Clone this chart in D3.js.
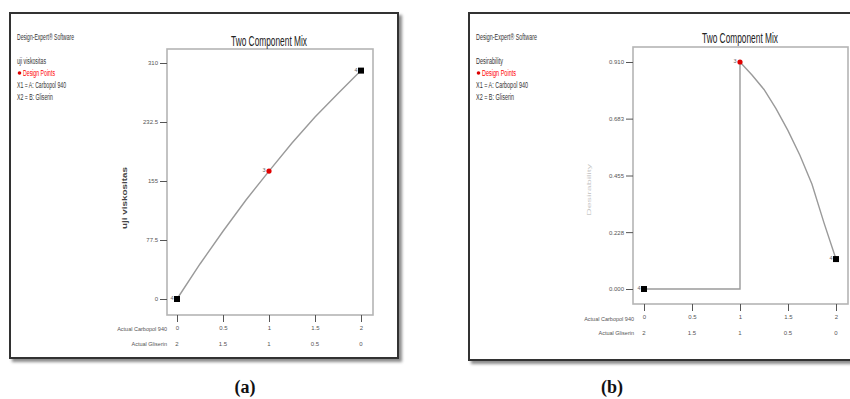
<!DOCTYPE html>
<html>
<head>
<meta charset="utf-8">
<script src="https://cdn.jsdelivr.net/npm/d3@7"></script>
<style>
  body { margin: 0; background: #fff; }
  svg { display: block; }
  text { font-family: "Liberation Sans Narrow", "Liberation Sans", Arial, sans-serif; }
</style>
</head>
<body>
<script>
// shared x axis (mixture components)
var xTicks = [0, 0.5, 1, 1.5, 2];
var carbopolLabels = ["0", "0.5", "1", "1.5", "2"];
var gliserinLabels = ["2", "1.5", "1", "0.5", "0"];

// panel (a) viscosity
var viscTicks = [0, 77.5, 155, 232.5, 310];
var viscTickLabels = ["0", "77.5", "155", "232.5", "310"];
var viscCurveX = [0, 0.25, 0.5, 0.75, 1, 1.25, 1.5, 1.75, 2];
var viscCurveY = [0, 46, 89, 130, 168, 205, 239, 270, 300];
var viscPointX = [0, 1, 2];
var viscPointY = [0, 168, 300];

// panel (b) desirability
var desTicks = [0, 0.228, 0.455, 0.683, 0.910];
var desTickLabels = ["0.000", "0.228", "0.455", "0.683", "0.910"];
var desCurveX = [0, 1, 1, 1.125, 1.25, 1.375, 1.5, 1.625, 1.75, 1.875, 2];
var desCurveY = [0, 0, 0.91, 0.858, 0.80, 0.723, 0.635, 0.535, 0.42, 0.265, 0.12];
var desPointX = [0, 1, 2];
var desPointY = [0, 0.91, 0.12];

var pointLabels = ["4", "3", "4"];
var pointRed = [false, true, false];

var svg = d3.select("body").append("svg")
    .attr("width", 850)
    .attr("height", 399);

var defs = svg.append("defs");
var f = defs.append("filter").attr("id", "shadow")
    .attr("x", "-5%").attr("y", "-5%").attr("width", "115%").attr("height", "115%");
f.append("feDropShadow").attr("dx", 3).attr("dy", 3).attr("stdDeviation", 1.8)
    .attr("flood-color", "#000").attr("flood-opacity", 0.45);

function draw_panel(p) {
    var g = svg.append("g");

    // outer frame
    g.append("rect")
        .attr("x", p.frame[0]).attr("y", p.frame[1])
        .attr("width", p.frame[2]).attr("height", p.frame[3])
        .attr("fill", "#fff").attr("stroke", "#333").attr("stroke-width", 2)
        .attr("filter", "url(#shadow)");

    // legend block
    var lx = p.frame[0] + 7;
    g.append("text").text("Design-Expert\u00ae Software")
        .attr("x", lx).attr("y", 40).attr("font-size", 8.5)
        .attr("textLength", p.legendW[0]).attr("lengthAdjust", "spacingAndGlyphs").attr("fill", "#333");
    g.append("text").text(p.response)
        .attr("x", lx).attr("y", 64).attr("font-size", 8.5)
        .attr("textLength", p.legendW[1]).attr("lengthAdjust", "spacingAndGlyphs").attr("fill", "#333");
    g.append("circle").attr("cx", lx + 2.5).attr("cy", 73).attr("r", 1.8).attr("fill", "#d00");
    g.append("text").text("Design Points")
        .attr("x", lx + 6).attr("y", 76).attr("font-size", 8.5)
        .attr("textLength", p.legendW[2]).attr("lengthAdjust", "spacingAndGlyphs").attr("fill", "#f00");
    g.append("text").text("X1 = A: Carbopol 940")
        .attr("x", lx).attr("y", 88).attr("font-size", 8.5)
        .attr("textLength", p.legendW[3]).attr("lengthAdjust", "spacingAndGlyphs").attr("fill", "#333");
    g.append("text").text("X2 = B: Gliserin")
        .attr("x", lx).attr("y", 100).attr("font-size", 8.5)
        .attr("textLength", p.legendW[4]).attr("lengthAdjust", "spacingAndGlyphs").attr("fill", "#333");

    // plot box
    var box = p.box;
    g.append("rect")
        .attr("x", box[0]).attr("y", box[1])
        .attr("width", box[2] - box[0]).attr("height", box[3] - box[1])
        .attr("fill", "#fff").attr("stroke", "#b5b5b5").attr("stroke-width", 1.6);

    // title
    g.append("text").text("Two Component Mix")
        .attr("x", p.titleX).attr("y", p.titleY).attr("font-size", 14)
        .attr("text-anchor", "middle")
        .attr("textLength", 76).attr("lengthAdjust", "spacingAndGlyphs").attr("fill", "#222");

    var xScale = d3.scaleLinear().domain([0, 2]).range(p.xRange);
    var yScale = d3.scaleLinear().domain(p.yDomain).range(p.yRange);

    // y axis
    var yAxis = d3.axisLeft(yScale)
        .tickValues(p.yTicks)
        .tickFormat(function(d, i) { return p.yTickLabels[i]; })
        .tickSize(7).tickPadding(2);
    var yg = g.append("g").attr("transform", "translate(" + box[0] + ",0)").call(yAxis);
    yg.select(".domain").remove();
    yg.selectAll("line").attr("stroke", "#555");
    yg.selectAll("text").attr("font-size", 6).attr("fill", "#555");

    // y title
    g.append("text").text(p.yTitle)
        .attr("transform", "translate(" + p.yTitlePos[0] + "," + p.yTitlePos[1] + ") rotate(-90)")
        .attr("text-anchor", "middle").attr("font-size", p.yTitleSize).attr("font-weight", p.yTitleBold ? "bold" : "normal")
        .attr("textLength", p.yTitleW).attr("lengthAdjust", "spacingAndGlyphs")
        .attr("fill", p.yTitleColor);

    // x axis: tick marks with carbopol values
    var xAxis = d3.axisBottom(xScale)
        .tickValues(xTicks)
        .tickFormat(function(d, i) { return carbopolLabels[i]; })
        .tickSize(p.xTickLen).tickPadding(4);
    var xg = g.append("g").attr("transform", "translate(0," + box[3] + ")").call(xAxis);
    xg.select(".domain").remove();
    xg.selectAll("line").attr("stroke", "#555");
    xg.selectAll("text").attr("font-size", 6).attr("fill", "#555");

    // second row: gliserin values
    g.selectAll(".glis").data(xTicks).enter().append("text")
        .attr("class", "glis")
        .attr("x", function(d) { return xScale(d); })
        .attr("y", p.row2Y)
        .attr("text-anchor", "middle").attr("font-size", 6).attr("fill", "#555")
        .text(function(d, i) { return gliserinLabels[i]; });

    g.append("text").text("Actual Carbopol 940")
        .attr("x", xScale(0) - 10).attr("y", p.row1Y).attr("text-anchor", "end")
        .attr("font-size", 5.5).attr("fill", "#555");
    g.append("text").text("Actual Gliserin")
        .attr("x", xScale(0) - 10).attr("y", p.row2Y).attr("text-anchor", "end")
        .attr("font-size", 5.5).attr("fill", "#555");

    // response curve
    var line = d3.line()
        .x(function(d, i) { return xScale(p.curveX[i]); })
        .y(function(d) { return yScale(d); });
    g.append("path").datum(p.curveY)
        .attr("fill", "none").attr("stroke", "#9a9a9a").attr("stroke-width", 1.4)
        .attr("d", line);

    // design points
    p.pointX.forEach(function(px, i) {
        var cx = xScale(px), cy = yScale(p.pointY[i]);
        if (pointRed[i]) {
            g.append("circle").attr("cx", cx).attr("cy", cy).attr("r", 2.6).attr("fill", "#e00000");
        } else {
            g.append("rect").attr("x", cx - 3).attr("y", cy - 3)
                .attr("width", 6).attr("height", 6).attr("fill", "#000");
        }
        g.append("text").text(pointLabels[i])
            .attr("x", cx - 3.5).attr("y", cy + 1)
            .attr("text-anchor", "end").attr("font-size", 5.5).attr("fill", "#666");
    });

    // caption
    svg.append("text").text(p.caption)
        .attr("x", p.captionX).attr("y", 393)
        .attr("text-anchor", "middle")
        .style("font-family", "'Liberation Serif', 'Times New Roman', serif")
        .attr("font-size", 18).attr("font-weight", "bold").attr("fill", "#111");
}

draw_panel({
    frame: [10, 13, 388, 345],
    box: [167, 49, 373, 315],
    legendW: [57, 29, 32, 49, 36],
    response: "uji viskositas",
    titleX: 269, titleY: 46,
    xRange: [177, 361],
    yDomain: [0, 310], yRange: [299, 63],
    yTicks: viscTicks, yTickLabels: viscTickLabels,
    yTitle: "uji viskositas", yTitlePos: [127, 198], yTitleW: 62, yTitleSize: 6.5, yTitleBold: true, yTitleColor: "#444",
    xTickLen: 7, row1Y: 331, row2Y: 346,
    curveX: viscCurveX, curveY: viscCurveY,
    pointX: viscPointX, pointY: viscPointY,
    caption: "(a)", captionX: 245
});

draw_panel({
    frame: [469, 13, 400, 347],
    box: [633, 47, 848, 304],
    legendW: [61, 27, 34, 52, 38],
    response: "Desirability",
    titleX: 740, titleY: 43,
    xRange: [644, 836],
    yDomain: [0, 0.91], yRange: [289, 62],
    yTicks: desTicks, yTickLabels: desTickLabels,
    yTitle: "Desirability", yTitlePos: [591, 190], yTitleW: 52, yTitleSize: 5.5, yTitleBold: false, yTitleColor: "#c8c8c8",
    xTickLen: 7, row1Y: 321, row2Y: 335,
    curveX: desCurveX, curveY: desCurveY,
    pointX: desPointX, pointY: desPointY,
    caption: "(b)", captionX: 612
});
</script>
</body>
</html>
